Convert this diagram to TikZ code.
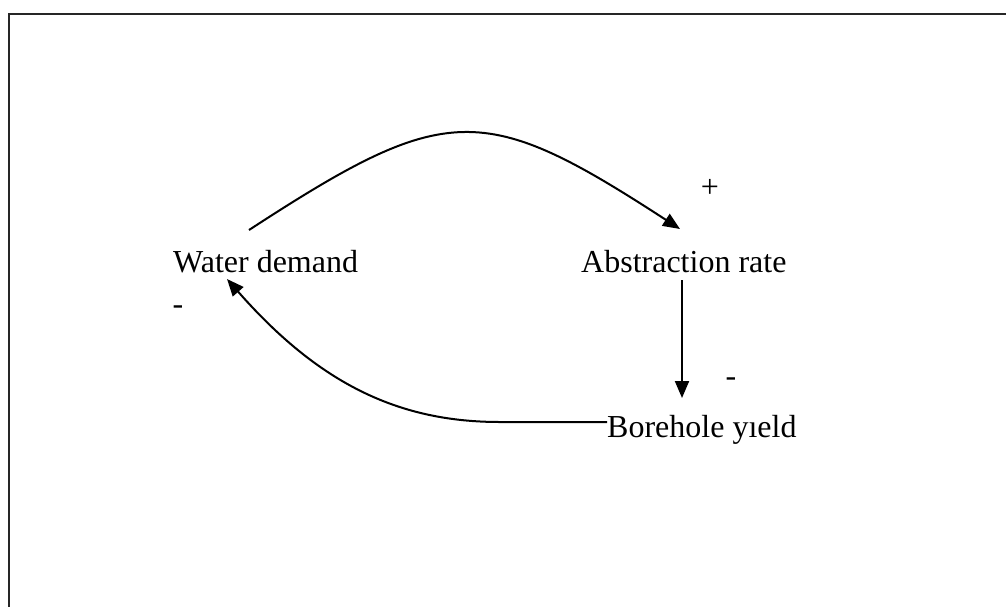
\documentclass[tikz,border=0pt]{standalone}
\usepackage{fontspec}
\setmainfont{Liberation Serif}
\usetikzlibrary{arrows.meta}
\begin{document}
\begin{tikzpicture}[x=1pt,y=-1pt,
  lbl/.style={inner sep=0pt,anchor=base west,font=\fontsize{32}{36}\selectfont},
  sgn/.style={inner sep=0pt,font=\fontsize{32}{36}\selectfont},
  link/.style={line width=2pt,-{Triangle[length=17pt,width=14pt]}},
  frame/.style={line width=2.2pt,draw=black!85}]
\useasboundingbox (0,0) rectangle (1006,606);
\draw[frame] (9,620) -- (9,14) -- (1020,14);
\node[lbl] (wd) at (173,272) {Water demand};
\node[lbl] (ar) at (581,272) {Abstraction rate};
\node[lbl] (by) at (607,437) {Borehole yıeld};
\node[sgn] (p1) at (710,188) {+};
\node[sgn] (m1) at (731,382) {-};
\node[sgn] (m2) at (178,310) {-};
\coordinate (wdout) at (249,230);
\coordinate (arin) at (680,229);
\coordinate (arout) at (682,280);
\coordinate (byin) at (682,398);
\coordinate (byout) at (607,422);
\coordinate (wdin) at (227,279);
\draw[link] (wdout) .. controls (447,101) and (483,101) .. (arin);
\draw[link] (arout) -- (byin);
\draw[link] (byout) -- (500,422) .. controls (400,422) and (320,385) .. (wdin);
\end{tikzpicture}
\end{document}
